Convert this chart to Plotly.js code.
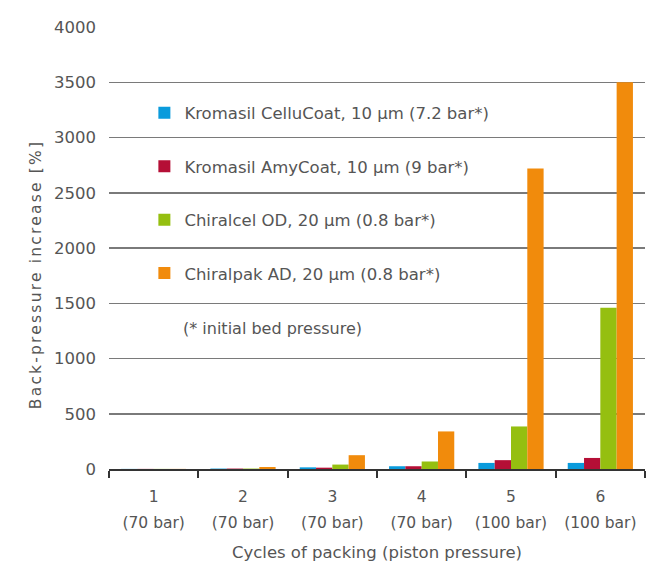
<!DOCTYPE html>
<html>
<head>
<meta charset="utf-8">
<script src="https://cdn.plot.ly/plotly-3.0.1.min.js"></script>
<style>
html, body { margin: 0; padding: 0; background: #fff; }
#chart { width: 649px; height: 562px; }
.annotation[data-index="1"] text { letter-spacing: 2.2px; }
</style>
</head>
<body>
<div id="chart"></div>
<script>
const cycles = ["1", "2", "3", "4", "5", "6"];
const pressures = ["(70 bar)", "(70 bar)", "(70 bar)", "(70 bar)", "(100 bar)", "(100 bar)"];
const seriesNames = [
  "Kromasil CelluCoat, 10 µm (7.2 bar*)",
  "Kromasil AmyCoat, 10 µm (9 bar*)",
  "Chiralcel OD, 20 µm (0.8 bar*)",
  "Chiralpak AD, 20 µm (0.8 bar*)"
];
const celluCoat = [1, 4, 15, 25, 55, 55];
const amyCoat = [1, 4, 12, 25, 80, 100];
const chiralcelOD = [1, 4, 40, 68, 385, 1460];
const chiralpakAD = [1, 18, 125, 340, 2720, 3500];
const yTicks = [0, 500, 1000, 1500, 2000, 2500, 3000, 3500, 4000];
const yTitle = "Back-pressure increase [%]";
const xTitle = "Cycles of packing (piston pressure)";
const footnote = "(* initial bed pressure)";

const colors = ["#0a9bdc", "#b50f36", "#95bf10", "#f18b0c"];
const values = [celluCoat, amyCoat, chiralcelOD, chiralpakAD];

const FONT = "DejaVu Sans, sans-serif";
const TXT = "#555555";

const traces = values.map((v, i) => ({
  type: "bar",
  x: cycles,
  y: v,
  name: seriesNames[i],
  legendgroup: "g" + i,
  marker: { color: colors[i], line: { width: 0 } },
  hoverinfo: "name+y"
}));

const tickText = cycles.map((c, i) =>
  "<span style='font-size:15.5px'>" + c + "</span><br><span style='font-size:15.5px'>" + pressures[i] + "</span>");

const layout = {
  width: 649,
  height: 562,
  margin: { l: 109, r: 4, t: 27, b: 93 },
  paper_bgcolor: "#ffffff",
  plot_bgcolor: "#ffffff",
  font: { family: FONT, size: 15.5, color: TXT },
  barmode: "group",
  bargap: 0.27,
  bargroupgap: 0,
  showlegend: true,
  legend: {
    x: 0.066, y: 0.845, xanchor: "left", yanchor: "top",
    bgcolor: "rgba(0,0,0,0)",
    font: { family: FONT, size: 16.5, color: TXT },
    tracegroupgap: 29,
    itemclick: false
  },
  xaxis: {
    type: "category",
    tickmode: "array",
    tickvals: cycles,
    ticktext: tickText,
    tickson: "boundaries",
    ticks: "outside",
    ticklen: 7,
    tickwidth: 2,
    tickcolor: "#333333",
    showline: true,
    linecolor: "#333333",
    linewidth: 2,
    showgrid: false,
    zeroline: false,
    ticklabelstandoff: 7,
    tickfont: { family: FONT, size: 20, color: TXT },
    title: { text: xTitle, font: { family: FONT, size: 16.5, color: TXT }, standoff: 15 },
    fixedrange: true
  },
  yaxis: {
    range: [0, 4000],
    tickmode: "array",
    tickvals: yTicks,
    ticktext: yTicks.map(String),
    showgrid: true,
    gridcolor: "#7a7a7a",
    gridwidth: 1.5,
    zeroline: false,
    showline: false,
    ticks: "",
    ticklabelstandoff: 12,
    tickfont: { family: FONT, size: 16.5, color: TXT },
    fixedrange: true
  },
  annotations: [{
    xref: "paper", yref: "paper",
    x: 0.134, y: 0.318, xanchor: "left", yanchor: "middle",
    text: footnote,
    showarrow: false,
    font: { family: FONT, size: 16, color: TXT }
  }, {
    xref: "paper", yref: "paper",
    x: -0.138, y: 0.44, xanchor: "center", yanchor: "middle",
    text: yTitle,
    textangle: -90,
    showarrow: false,
    font: { family: FONT, size: 15.5, color: TXT }
  }]
};

Plotly.newPlot("chart", traces, layout, { displayModeBar: false, staticPlot: true });
</script>
</body>
</html>
